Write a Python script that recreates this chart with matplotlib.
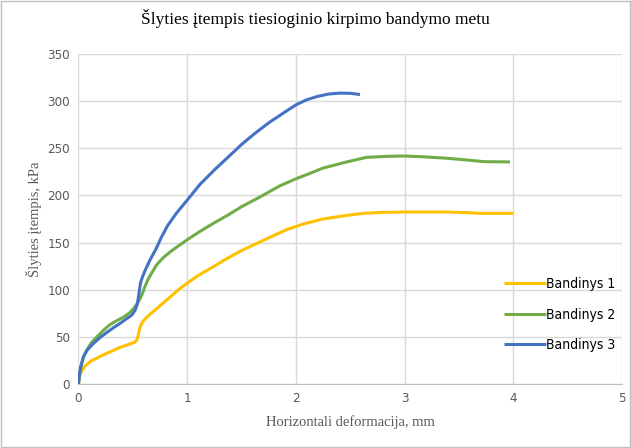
import matplotlib
matplotlib.use("Agg")
import matplotlib.pyplot as plt
from matplotlib.patches import Rectangle

title = "Šlyties įtempis tiesioginio kirpimo bandymo metu"
xlabel = "Horizontali deformacija, mm"
ylabel = "Šlyties įtempis, kPa"
series_names = ["Bandinys 1", "Bandinys 2", "Bandinys 3"]
colors = ["#FFC000", "#70AD47", "#4472C4"]

x1 = [0, 0.01, 0.03, 0.06, 0.11, 0.17, 0.23, 0.31, 0.385, 0.45, 0.51, 0.535, 0.55, 0.565, 0.59, 0.63, 0.69, 0.77, 0.85, 0.92, 1.0, 1.1, 1.22, 1.35, 1.5, 1.62, 1.75, 1.92, 2.08, 2.25, 2.45, 2.62, 2.8, 3.0, 3.39, 3.55, 3.7, 4.0]
y1 = [0, 8, 14, 19, 24, 27.5, 31, 35, 39, 41.5, 44, 46, 52, 60, 66, 71, 77, 85, 93, 100, 107, 115, 123, 132, 141.5, 148, 155, 164, 170, 175, 178.5, 181, 182, 182.4, 182.4, 181.8, 181, 181]

x2 = [0, 0.01, 0.03, 0.05, 0.077, 0.12, 0.17, 0.23, 0.29, 0.35, 0.415, 0.47, 0.51, 0.55, 0.585, 0.61, 0.64, 0.68, 0.72, 0.78, 0.85, 0.92, 1.0, 1.12, 1.25, 1.38, 1.5, 1.68, 1.85, 2.0, 2.12, 2.25, 2.45, 2.65, 2.85, 3.0, 3.2, 3.39, 3.55, 3.73, 3.97]
y2 = [0, 10, 22, 30, 36, 44, 50, 57, 63, 67, 71, 75.5, 80.5, 87, 95, 103, 111, 119, 126.6, 134, 140.7, 146.5, 153, 162, 171, 179.5, 188, 199, 210, 217.6, 223, 229, 235, 240.4, 241.5, 241.8, 240.8, 239.4, 237.8, 235.8, 235.5]

x3 = [0, 0.008, 0.02, 0.046, 0.08, 0.138, 0.2, 0.26, 0.32, 0.385, 0.44, 0.49, 0.52, 0.54, 0.555, 0.57, 0.59, 0.615, 0.66, 0.71, 0.76, 0.82, 0.9, 1.0, 1.12, 1.25, 1.38, 1.5, 1.62, 1.75, 1.88, 2.0, 2.1, 2.2, 2.3, 2.4, 2.5, 2.59]
y3 = [0, 10, 18, 29, 36, 43, 49.5, 54.6, 59.5, 64.5, 69, 73, 78, 84, 95, 107, 114, 121, 132, 142.5, 155, 168, 181, 195, 212, 227, 241, 254, 265.5, 277, 287, 296, 301.5, 305, 307.5, 308.5, 308.3, 307]

xs = [x1, x2, x3]
ys = [y1, y2, y3]

fig = plt.figure(figsize=(6.31, 4.48), dpi=100)
fig.patches.append(Rectangle((0.002, 0.002), 0.996, 0.996, transform=fig.transFigure,
                             fill=False, edgecolor="#bfbfbf", linewidth=1))
ax = fig.add_axes([0.1244, 0.1429, 0.8613, 0.7366])

for x, y, c, n in zip(xs, ys, colors, series_names):
    ax.plot(x, y, color=c, linewidth=2.2, label=n, solid_capstyle="butt", solid_joinstyle="round")

ax.set_xlim(0, 5)
ax.set_ylim(0, 350)
ax.set_xticks(range(0, 6))
ax.set_yticks(range(0, 351, 50))
ax.grid(True, color="#d9d9d9", linewidth=1)
ax.set_axisbelow(True)
for s in ["top", "right", "left"]:
    ax.spines[s].set_visible(False)
ax.spines["bottom"].set_color("#bfbfbf")
ax.tick_params(length=0, colors="#595959", labelsize=10, pad=6)
for lab in ax.get_xticklabels() + ax.get_yticklabels():
    lab.set_family("DejaVu Sans")
    lab.set_stretch("condensed")
    lab.set_fontsize(9.5)

ax.set_xlabel(xlabel, family="Liberation Serif", fontsize=10.5, color="#595959", labelpad=7)
ax.set_ylabel(ylabel, family="Liberation Serif", fontsize=10.5, color="#595959", labelpad=4)
fig.text(0.5, 0.958, title, family="Liberation Serif", fontsize=12.5, ha="center", va="center", color="black")

leg = ax.legend(loc="center left", bbox_to_anchor=(0.76, 0.21), frameon=False,
                prop={"family": "DejaVu Sans", "stretch": "condensed", "size": 10},
                handlelength=3.0, handletextpad=0.0, labelspacing=1.2)

fig.savefig("out.png", dpi=100)
